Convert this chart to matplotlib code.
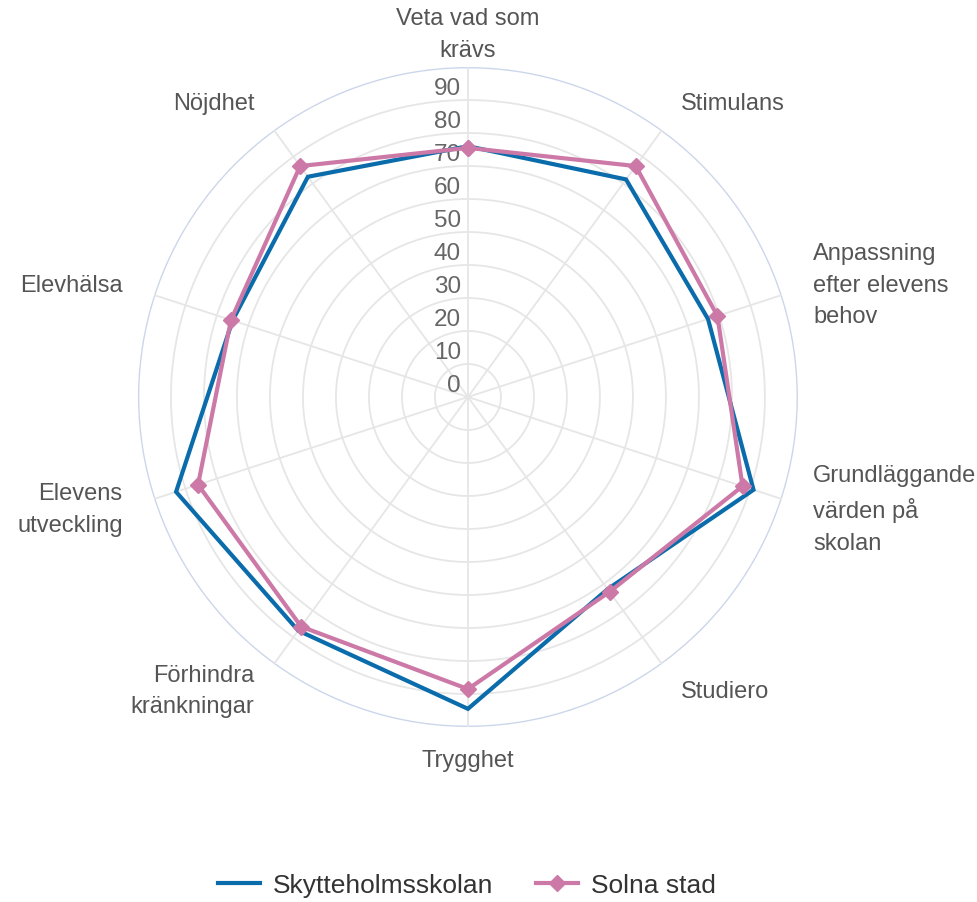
import numpy as np
import matplotlib
matplotlib.use("Agg")
from matplotlib import pyplot as plt

plt.rcParams['font.family'] = ['Liberation Sans', 'DejaVu Sans']

categories = ["Veta vad som\nkrävs", "Stimulans", "Anpassning\nefter elevens\nbehov",
              "Grundläggande\nvärden på\nskolan", "Studiero", "Trygghet",
              "Förhindra\nkränkningar", "Elevens\nutveckling", "Elevhälsa", "Nöjdhet"]
skytteholm = [76, 81.5, 76.5, 91, 72, 94.5, 87.5, 93, 75, 82.5]
solna = [75.5, 86.5, 79.5, 87.5, 73, 88.5, 86, 86, 75.5, 86.5]
ring_values = [0, 10, 20, 30, 40, 50, 60, 70, 80, 90]

blue = "#0a6cab"
pink = "#cc79a7"
grid_col = "#e6e6e6"
text_col = "#666666"

n = len(categories)
angles = np.linspace(0, 2 * np.pi, n, endpoint=False)

fig = plt.figure(figsize=(9.77, 9.03), dpi=100)
ax = fig.add_axes([0.1412, 0.1938, 0.6755, 0.7309], polar=True)
ax.set_theta_zero_location('N')
ax.set_theta_direction(-1)
ax.set_ylim(0, 100)

# grid
ax.grid(False)
ax.spines['polar'].set_visible(False)
ax.set_xticks([])
ax.set_yticks([])
circ = np.linspace(0, 2 * np.pi, 400)
for v in ring_values[1:]:
    ax.plot(circ, [v] * len(circ), color=grid_col, lw=1.3, zorder=1)
ax.plot(circ, [100] * len(circ), color="#ccd6eb", lw=2, zorder=1)
for a in angles:
    ax.plot([a, a], [0, 100], color=grid_col, lw=1.3, zorder=1)

for v in ring_values:
    ax.annotate(str(v), xy=(0, v), xytext=(-5, 1), textcoords='offset points',
                ha='right', va='bottom', fontsize=17.5, color=text_col, zorder=2)

# series
a_closed = np.append(angles, angles[0])
ax.plot(a_closed, skytteholm + skytteholm[:1], color=blue, lw=3, zorder=3,
        solid_joinstyle='miter', label="Skytteholmsskolan")
ax.plot(a_closed, solna + solna[:1], color=pink, lw=3, marker='D', ms=8.5,
        zorder=4, label="Solna stad")

# category labels
for a, lab in zip(angles, categories):
    deg = np.degrees(a)
    if deg < 1 or abs(deg - 180) < 1:
        ha = 'center'
    elif deg < 180:
        ha = 'left'
    else:
        ha = 'right'
    ax.text(a, 110, lab, ha=ha, va='center', fontsize=17, color="#555555",
            linespacing=1.55)

h, l = ax.get_legend_handles_labels()
fig.legend(h, l, loc='center', bbox_to_anchor=(0.478, 0.019), ncol=2, frameon=False,
           fontsize=19, handlelength=1.6, columnspacing=1.6, handletextpad=0.5,
           labelcolor="#333333")

fig.savefig("out.png", dpi=100)
